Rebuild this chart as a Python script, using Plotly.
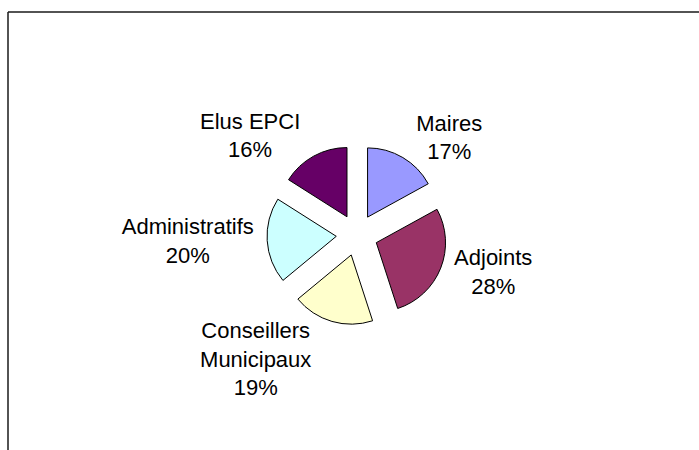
import plotly.graph_objects as go

categories = ["Maires", "Adjoints", "Conseillers<br>Municipaux", "Administratifs", "Elus EPCI"]
values = [17, 28, 19, 20, 16]
colors = ["#9999FF", "#993366", "#FFFFCC", "#CCFFFF", "#660066"]

W, H = 699, 450
cx, cy = 357, 235      # pie centre in px (from top-left)
half = 90              # half size of pie domain in px

fig = go.Figure(go.Pie(
    labels=categories,
    values=values,
    sort=False,
    direction="clockwise",
    rotation=0,
    pull=0.3,
    marker=dict(colors=colors, line=dict(color="black", width=1)),
    textinfo="label+percent",
    textposition="outside",
    textfont=dict(family="Arial, Liberation Sans, sans-serif", size=22, color="black"),
    showlegend=False,
    hoverinfo="label+percent",
    domain=dict(x=[(cx - half) / W, (cx + half) / W],
                y=[(H - cy - half) / H, (H - cy + half) / H]),
))

fig.update_layout(
    width=W, height=H,
    margin=dict(l=0, r=0, t=0, b=0),
    paper_bgcolor="white",
    plot_bgcolor="white",
    font=dict(family="Arial, Liberation Sans, sans-serif", size=22, color="black"),
    shapes=[
        dict(type="line", xref="paper", yref="paper",
             x0=8 / W, x1=1, y0=1 - 12 / H, y1=1 - 12 / H,
             line=dict(color="#1a1a1a", width=1.5)),
        dict(type="line", xref="paper", yref="paper",
             x0=8 / W, x1=8 / W, y0=0, y1=1 - 12 / H,
             line=dict(color="#1a1a1a", width=1.5)),
    ],
)

fig.write_html("out.html")
